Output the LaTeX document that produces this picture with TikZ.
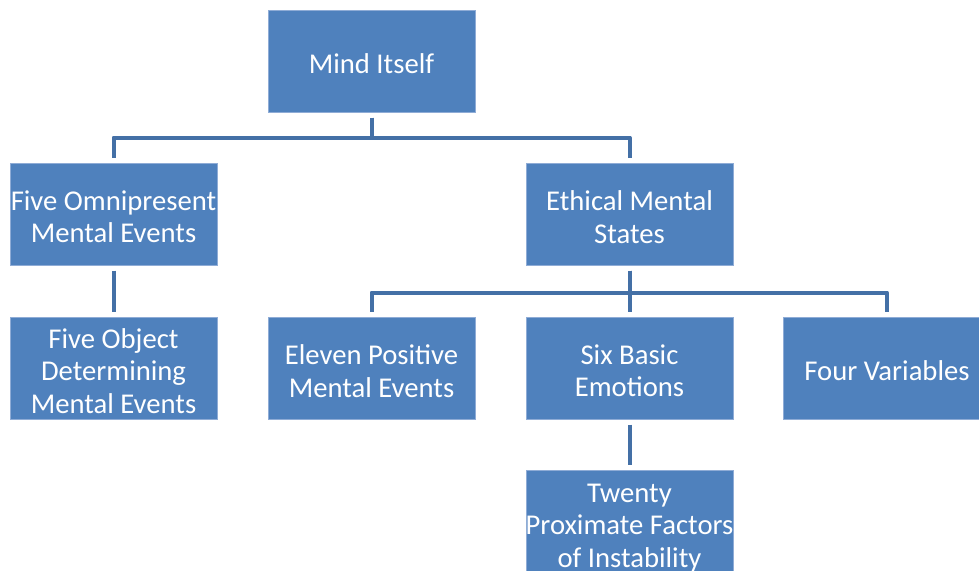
\documentclass[tikz,border=0pt]{standalone}
\usepackage{fontspec}
\setmainfont{Carlito}
\definecolor{boxfill}{HTML}{4F81BD}
\definecolor{boxline}{HTML}{8FACD6}
\definecolor{linkline}{HTML}{4470A6}
\tikzset{every picture/.style={line width=0.75pt}}
\tikzset{
  smartbox/.style={draw=boxline, fill=boxfill, line width=0.75pt, inner sep=0pt,
    minimum width=155.25pt, minimum height=76.5pt},
  boxtext/.style={inner sep=0pt, align=center, text=white, yshift=-2.25pt,
    font=\fontsize{21.5}{24.3}\selectfont},
  link/.style={draw=linkline, line width=3pt, line join=round,
    shorten <=3.75pt, shorten >=3.75pt}
}

\begin{document}
\begin{tikzpicture}[x=0.75pt,y=0.75pt,yscale=-1,xscale=1]
%set diagram left start at 0, and has height of 571
\path[use as bounding box] (0,0) rectangle (979,571);
\clip (0,0) rectangle (979,571);

%Shape: Rectangle [top]
\node[smartbox, label={[boxtext]center:Mind Itself}] (mind) at (371.5,61) {};
%Shape: Rectangle [second row]
\node[smartbox, label={[boxtext]center:Five Omnipresent\\Mental Events}] (omni) at (113.5,214) {};
\node[smartbox, label={[boxtext]center:Ethical Mental\\States}] (ethic) at (629.5,214) {};
%Shape: Rectangle [third row]
\node[smartbox, label={[boxtext]center:Five Object\\Determining\\Mental Events}] (object) at (113.5,368) {};
\node[smartbox, label={[boxtext]center:Eleven Positive\\Mental Events}] (eleven) at (371.5,368) {};
\node[smartbox, label={[boxtext]center:Six Basic\\Emotions}] (six) at (629.5,368) {};
\node[smartbox, label={[boxtext]center:Four Variables}] (four) at (887,368) {};
%Shape: Rectangle [bottom]
\node[smartbox, label={[boxtext, yshift=-3pt]center:Twenty\\Proximate Factors\\of Instability}] (twenty) at (629.5,521) {};

%Straight Lines
\draw[link] (mind.south) -- ++(0,25) -| (omni.north);
\draw[link] (mind.south) -- ++(0,25) -| (ethic.north);
\draw[link] (omni.south) -- (object.north);
\draw[link] (ethic.south) -- ++(0,27) -| (eleven.north);
\draw[link] (ethic.south) -- ++(0,27) -| (six.north);
\draw[link] (ethic.south) -- ++(0,27) -| (four.north);
\draw[link] (six.south) -- (twenty.north);

\end{tikzpicture}
\end{document}
